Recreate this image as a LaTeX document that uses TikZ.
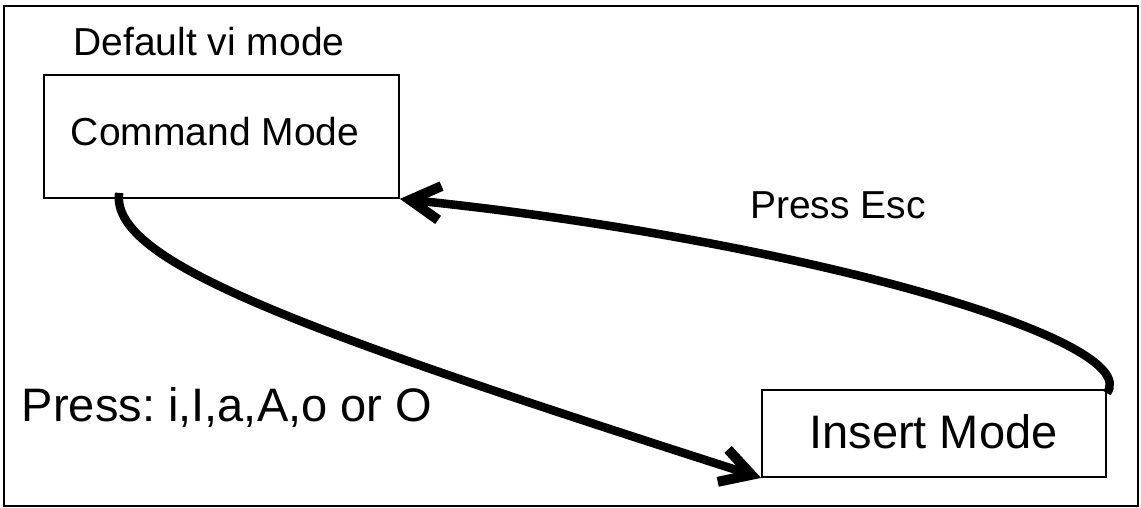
\documentclass[tikz,border=0pt]{standalone}
\usepackage{fontspec}
\setmainfont{Liberation Sans}
\usetikzlibrary{arrows.meta}
\frenchspacing
\begin{document}
\begin{tikzpicture}[x=1pt,y=-1pt,
  modebox/.style={draw,line width=1.8pt,inner sep=0pt,anchor=center},
  lbl/.style={inner sep=0pt,anchor=center},
  conn/.style={line width=8.5pt,-{Straight Barb[length=30pt,width=34pt,line width=10pt]}},
  f39/.style={font=\fontsize{39}{45}\selectfont},
  f47/.style={font=\fontsize{47}{54}\selectfont}]
\useasboundingbox (0,0) rectangle (1141,508);
\draw[line width=2.5pt] (4,6) rectangle (1138,506);
\node[modebox,f39,minimum width=355pt,minimum height=123pt] (cmd) at (221.5,136.5) {};
\node[lbl,f39] (cmdt) at (215,132) {Command Mode};
\node[modebox,f47,minimum width=344pt,minimum height=87pt] (ins) at (934,433.5) {};
\node[lbl,f47] (inst) at (933.5,432) {Insert Mode};
\node[lbl,f39] (def) at (209,42) {Default vi mode};
\node[lbl,f39] (esc) at (838,205) {Press Esc};
\node[lbl,f47] (prs) at (227,407) {Press: i,I,a,A,o or O};
\draw[conn] ([xshift=76pt,yshift=6pt]cmd.south west) .. controls (110,262) and (300,330) .. (ins.south west);
\draw[conn] ([yshift=-4pt]ins.north east) .. controls (1145,340) and (800,240) .. (cmd.south east);
\end{tikzpicture}
\end{document}
